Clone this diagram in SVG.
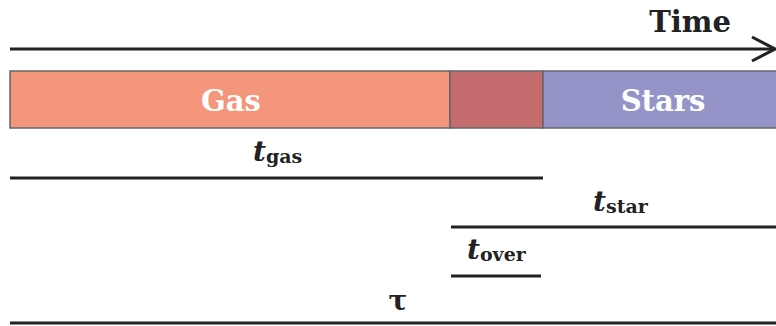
<svg xmlns="http://www.w3.org/2000/svg" width="776" height="326" viewBox="0 0 776 326">
<style>
.lbl{font-family:"DejaVu Serif","Liberation Serif",serif;font-weight:bold;fill:#222}
.bar{font-family:"DejaVu Serif","Liberation Serif",serif;font-weight:bold;fill:#fff;font-size:29px}
.t{font-style:italic;font-size:28px}
.sub{font-style:normal;font-size:19px}
.ln{stroke:#222;stroke-width:3;fill:none}
.seg{stroke:#666;stroke-width:1.5}
</style>
<g id="time-axis">
<line class="ln" x1="10" y1="49" x2="775" y2="49"/>
<polyline class="ln" points="752,37 775,49 752,61"/>
<text class="lbl" x="690" y="32" font-size="29" text-anchor="middle">Time</text>
</g>
<g id="gas">
<rect class="seg" x="10" y="71" width="440" height="57" fill="#F4967C"/>
<text class="bar" x="231" y="111" text-anchor="middle">Gas</text>
</g>
<g id="overlap">
<rect class="seg" x="450" y="71" width="93" height="57" fill="#C46C6E"/>
</g>
<g id="stars">
<rect class="seg" x="543" y="71" width="240" height="57" fill="#9494C8"/>
<text class="bar" x="663" y="111" text-anchor="middle">Stars</text>
</g>
<g id="connectors">
<line class="ln" x1="10" y1="178" x2="543" y2="178"/>
<line class="ln" x1="451" y1="227" x2="776" y2="227"/>
<line class="ln" x1="451" y1="276" x2="541" y2="276"/>
<line class="ln" x1="10" y1="323" x2="776" y2="323"/>
</g>
<g id="t-gas">
<text class="lbl t" x="253" y="161">t<tspan class="sub" dy="2">gas</tspan></text>
</g>
<g id="t-star">
<text class="lbl t" x="593" y="211">t<tspan class="sub" dy="2">star</tspan></text>
</g>
<g id="t-over">
<text class="lbl t" x="467" y="259">t<tspan class="sub" dy="2">over</tspan></text>
</g>
<g id="tau">
<text class="lbl" x="398" y="310" font-size="28" text-anchor="middle">τ</text>
</g>
</svg>
